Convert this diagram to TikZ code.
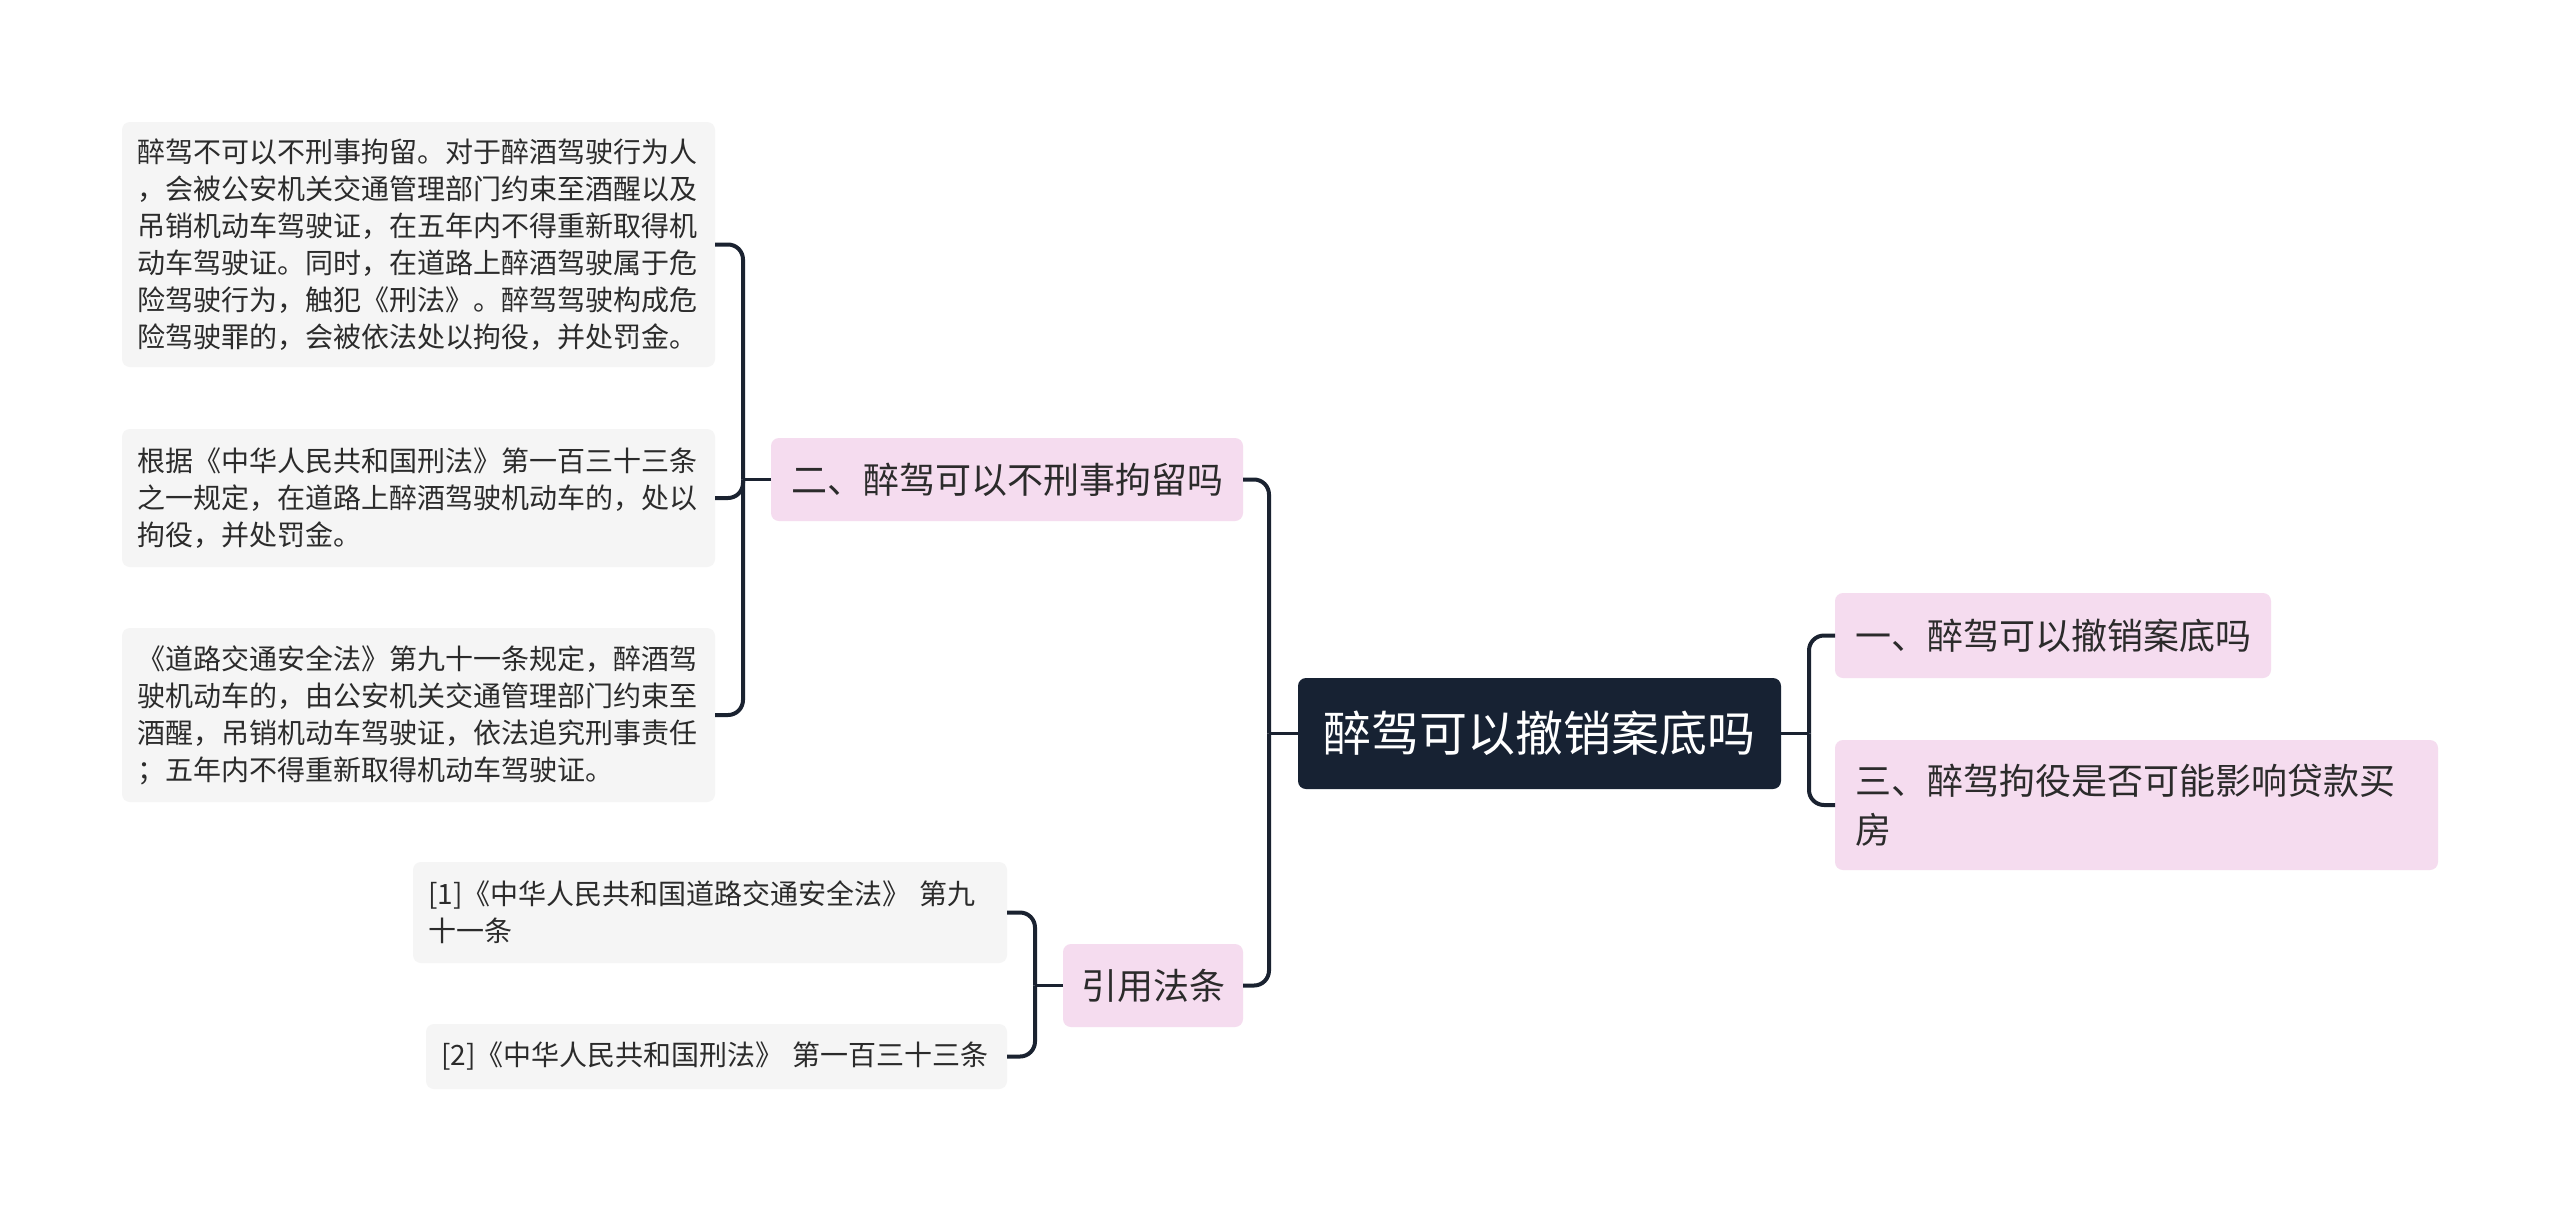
\documentclass[tikz,border=0pt]{standalone}
\usepackage{fontspec}
\setmainfont{Noto Sans CJK SC}
\definecolor{pinkbg}{HTML}{F5DCEF}
\definecolor{leafbg}{HTML}{F5F5F5}
\definecolor{rootbg}{HTML}{172233}
\definecolor{linec}{HTML}{1A2230}
\definecolor{txt}{HTML}{2B2B2B}
\begin{document}
\begin{tikzpicture}[x=1pt,y=-1pt,
  box/.style={rectangle, rounded corners=8pt, inner ysep=0pt, outer sep=0pt},
  rootbox/.style={box, fill=rootbg, text=white, font=\fontsize{48}{60}\selectfont, inner xsep=0pt},
  pinkbox/.style={box, fill=pinkbg, text=txt, font=\fontsize{36}{49}\selectfont, inner xsep=20pt, align=left},
  leafbox/.style={box, fill=leafbg, text=txt, font=\fontsize{28}{37}\selectfont, inner xsep=15pt, align=left},
  conn/.style={draw=linec, line width=4pt, rounded corners=15pt}
]
\useasboundingbox (0,0) rectangle (2560,1211);
\fill[white] (0,0) rectangle (2560,1211);

% root
\node[rootbox, minimum width=483pt, minimum height=111pt] (root) at (1539.5,733.5) {醉驾可以撤销案底吗};

% first-level
\node[pinkbox, minimum width=436pt, minimum height=85pt, inner xsep=0pt] (n1) at (2053,635.5) {一、醉驾可以撤销案底吗};
\node[pinkbox, text width=563pt, minimum height=130pt] (n3) at (2136.5,805) {三、醉驾拘役是否可能影响贷款买\\房};
\node[pinkbox, minimum width=472pt, minimum height=83pt, inner xsep=0pt] (n2) at (1007,479.5) {二、醉驾可以不刑事拘留吗};
\node[pinkbox, minimum width=180pt, minimum height=83pt, inner xsep=0pt] (nref) at (1153,985.5) {引用法条};

% leaves of n2
\node[leafbox, text width=563pt, minimum height=245pt] (l1) at (418.5,244.5) {醉驾不可以不刑事拘留。对于醉酒驾驶行为人\\，会被公安机关交通管理部门约束至酒醒以及\\吊销机动车驾驶证，在五年内不得重新取得机\\动车驾驶证。同时，在道路上醉酒驾驶属于危\\险驾驶行为，触犯《刑法》。醉驾驾驶构成危\\险驾驶罪的，会被依法处以拘役，并处罚金。};
\node[leafbox, text width=563pt, minimum height=138pt] (l2) at (418.5,498) {根据《中华人民共和国刑法》第一百三十三条\\之一规定，在道路上醉酒驾驶机动车的，处以\\拘役，并处罚金。};
\node[leafbox, text width=563pt, minimum height=174pt] (l3) at (418.5,715) {《道路交通安全法》第九十一条规定，醉酒驾\\驶机动车的，由公安机关交通管理部门约束至\\酒醒，吊销机动车驾驶证，依法追究刑事责任\\；五年内不得重新取得机动车驾驶证。};

% leaves of nref
\node[leafbox, text width=564pt, minimum height=101pt] (r1) at (710,912.5) {[1]《中华人民共和国道路交通安全法》 第九\\十一条};
\node[leafbox, text width=551pt, minimum height=65pt] (r2) at (716.5,1056.5) {[2]《中华人民共和国刑法》 第一百三十三条};

% bus coordinates
\coordinate (rootL) at ([xshift=-29pt]root.west);
\coordinate (rootR) at ([xshift=28pt]root.east);
\coordinate (n2L) at ([xshift=-28pt]n2.west);
\coordinate (nrefL) at ([xshift=-28pt]nref.west);

% connectors
\draw[conn, line width=3pt] (root.west) -- (rootL);
\draw[conn] (n2.east) -| (rootL);
\draw[conn] (nref.east) -| (rootL);

\draw[conn, line width=3pt] (root.east) -- (rootR);
\draw[conn] (n1.west) -| (rootR);
\draw[conn] (n3.west) -| (rootR);

\draw[conn, line width=3pt] (n2.west) -- (n2L);
\draw[conn] (l1.east) -| (n2L);
\draw[conn] (l2.east) -| (n2L);
\draw[conn] (l3.east) -| (n2L);

\draw[conn, line width=3pt] (nref.west) -- (nrefL);
\draw[conn] (r1.east) -| (nrefL);
\draw[conn] (r2.east) -| (nrefL);
\end{tikzpicture}
\end{document}
